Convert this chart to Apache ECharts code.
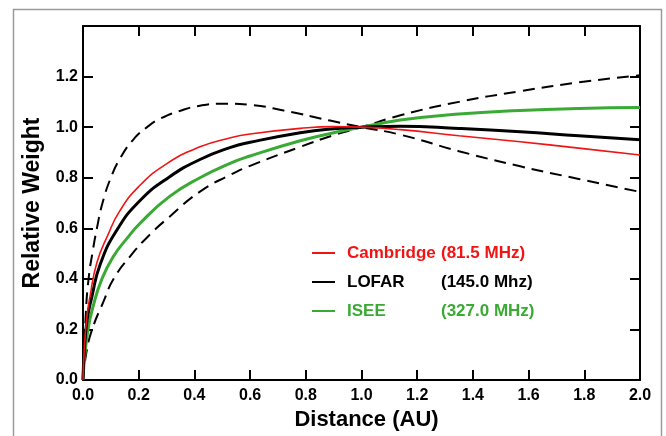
<!DOCTYPE html>
<html>
<head>
<meta charset="utf-8">
<script src="https://cdn.jsdelivr.net/npm/echarts@6/dist/echarts.min.js"></script>
<style>
html,body{margin:0;padding:0;background:#fff;}
#chart{width:666px;height:436px;}
</style>
</head>
<body>
<div id="chart"></div>
<script>
// ---- data ----
var xTicks = [0, 0.2, 0.4, 0.6, 0.8, 1.0, 1.2, 1.4, 1.6, 1.8, 2.0];
var yTicks = [0, 0.2, 0.4, 0.6, 0.8, 1.0, 1.2];

var legendNames = ['Cambridge', 'LOFAR', 'ISEE'];
var legendFreqs = ['(81.5 MHz)', '(145.0 Mhz)', '(327.0 MHz)'];

var cambX = [0, 0.005, 0.014, 0.025, 0.05, 0.09, 0.13, 0.2, 0.3, 0.42, 0.53, 0.6, 0.78, 0.9, 1.0, 1.14, 1.35, 1.57, 1.78, 2.0];
var cambY = [0, 0.13, 0.25, 0.33, 0.465, 0.575, 0.665, 0.765, 0.855, 0.922, 0.958, 0.973, 0.995, 1.002, 1.0, 0.99, 0.966, 0.942, 0.917, 0.89];

var lofarX = [0, 0.005, 0.015, 0.032, 0.061, 0.12, 0.205, 0.31, 0.42, 0.53, 0.6, 0.78, 0.9, 1.0, 1.14, 1.35, 1.57, 1.78, 2.0];
var lofarY = [0, 0.12, 0.24, 0.33, 0.455, 0.59, 0.71, 0.803, 0.872, 0.92, 0.94, 0.978, 0.994, 1.0, 1.004, 0.995, 0.982, 0.966, 0.95];

var iseeX = [0, 0.005, 0.018, 0.036, 0.068, 0.11, 0.158, 0.205, 0.31, 0.42, 0.53, 0.6, 0.78, 0.9, 1.0, 1.14, 1.35, 1.57, 1.78, 2.0];
var iseeY = [0, 0.08, 0.2, 0.29, 0.40, 0.49, 0.56, 0.62, 0.725, 0.8, 0.858, 0.886, 0.946, 0.978, 1.0, 1.028, 1.052, 1.066, 1.074, 1.078];

var dashUpX = [0, 0.01, 0.02, 0.035, 0.05, 0.07, 0.1, 0.135, 0.18, 0.23, 0.28, 0.35, 0.42, 0.5, 0.6, 0.72, 0.887, 1.0, 1.14, 1.35, 1.57, 1.78, 2.0];
var dashUpY = [0, 0.26, 0.40, 0.51, 0.60, 0.70, 0.80, 0.88, 0.95, 1.0, 1.035, 1.065, 1.085, 1.093, 1.088, 1.066, 1.026, 1.0, 0.97, 0.905, 0.845, 0.795, 0.744];

var dashLowX = [0, 0.014, 0.036, 0.072, 0.11, 0.17, 0.24, 0.31, 0.42, 0.53, 0.6, 0.78, 0.9, 1.0, 1.14, 1.35, 1.57, 1.78, 2.0];
var dashLowY = [0, 0.12, 0.21, 0.306, 0.40, 0.49, 0.575, 0.645, 0.745, 0.812, 0.847, 0.922, 0.968, 1.0, 1.047, 1.10, 1.142, 1.177, 1.205];

function pairs(xs, ys) { return xs.map(function (x, i) { return [x, ys[i]]; }); }

var colors = ['#f01414', '#000000', '#3aaa35'];
var FONT = '"Liberation Sans", Arial, sans-serif';

var chart = echarts.init(document.getElementById('chart'), null, { renderer: 'canvas' });

var rich = { s: { width: 7 } };
legendNames.forEach(function (n, i) {
  rich['a' + i] = { width: 94, color: colors[i], fontSize: 17, fontWeight: 'bold', fontFamily: FONT, lineHeight: 20 };
  rich['b' + i] = { color: colors[i], fontSize: 17, fontWeight: 'bold', fontFamily: FONT, lineHeight: 20 };
});

function axisCommon() {
  return {
    min: 0,
    interval: 0.2,
    axisLine: { show: true, onZero: false, lineStyle: { color: '#000', width: 2 } },
    axisTick: { show: true, inside: true, length: 10, lineStyle: { color: '#000', width: 2 } },
    splitLine: { show: false }
  };
}

var xBottom = Object.assign(axisCommon(), {
  type: 'value', position: 'bottom', max: 2.0,
  axisLabel: { show: true, margin: 8, color: '#000', fontSize: 16, fontWeight: 'bold', fontFamily: FONT,
    formatter: function (v) { return v.toFixed(1); } },
  name: 'Distance (AU)', nameLocation: 'middle', nameGap: 29,
  nameTextStyle: { color: '#000', fontSize: 22, fontWeight: 'bold', fontFamily: FONT, padding: [0, 0, 0, 10] }
});
var xTop = Object.assign(axisCommon(), { type: 'value', position: 'top', max: 2.0, axisLabel: { show: false } });

var yLeft = Object.assign(axisCommon(), {
  type: 'value', position: 'left', max: 1.4,
  axisLabel: { show: true, margin: 5, color: '#000', fontSize: 16, fontWeight: 'bold', fontFamily: FONT,
    formatter: function (v) {
      for (var i = 0; i < yTicks.length; i++) { if (Math.abs(yTicks[i] - v) < 1e-6) return v.toFixed(1); }
      return '';
    } },
  name: 'Relative Weight', nameLocation: 'middle', nameGap: 39,
  nameTextStyle: { color: '#000', fontSize: 23, fontWeight: 'bold', fontFamily: FONT }
});
var yRight = Object.assign(axisCommon(), { type: 'value', position: 'right', max: 1.4, axisLabel: { show: false } });

function lineSeries(name, xs, ys, color, width, type, z) {
  return {
    name: name, type: 'line', data: pairs(xs, ys),
    xAxisIndex: 0, yAxisIndex: 0,
    showSymbol: false, symbol: 'none', smooth: 0.5,
    color: color,
    lineStyle: { color: color, width: width, type: type },
    itemStyle: { color: color },
    z: z, silent: true, animation: false
  };
}

var option = {
  animation: false,
  backgroundColor: '#fff',
  grid: { left: 83, right: 26, top: 26, bottom: 56, containLabel: false },
  xAxis: [xBottom, xTop],
  yAxis: [yLeft, yRight],
  legend: {
    data: legendNames.map(function (n, i) { return { name: n, textStyle: { color: colors[i] } }; }),
    orient: 'vertical', left: 312, top: 243, padding: 0,
    icon: 'rect', itemWidth: 23, itemHeight: 2, itemGap: 9,
    selectedMode: false,
    textStyle: { fontSize: 17, fontWeight: 'bold', fontFamily: FONT, lineHeight: 20, rich: rich },
    formatter: function (name) {
      var i = legendNames.indexOf(name);
      return '{s| }{a' + i + '|' + name + '}{b' + i + '|' + legendFreqs[i] + '}';
    }
  },
  graphic: [{
    type: 'rect', silent: true, z: -1,
    shape: { x: 13.5, y: 9.5, width: 648, height: 500 },
    style: { fill: 'none', stroke: '#9a9a9a', lineWidth: 1.5 }
  }],
  series: [
    lineSeries('dashUp', dashUpX, dashUpY, '#000', 2, [12, 7], 2),
    lineSeries('dashLow', dashLowX, dashLowY, '#000', 2, [12, 7], 2),
    lineSeries('ISEE', iseeX, iseeY, colors[2], 3, 'solid', 3),
    lineSeries('LOFAR', lofarX, lofarY, colors[1], 3, 'solid', 4),
    lineSeries('Cambridge', cambX, cambY, colors[0], 1.6, 'solid', 5)
  ]
};
chart.setOption(option);
</script>
</body>
</html>
